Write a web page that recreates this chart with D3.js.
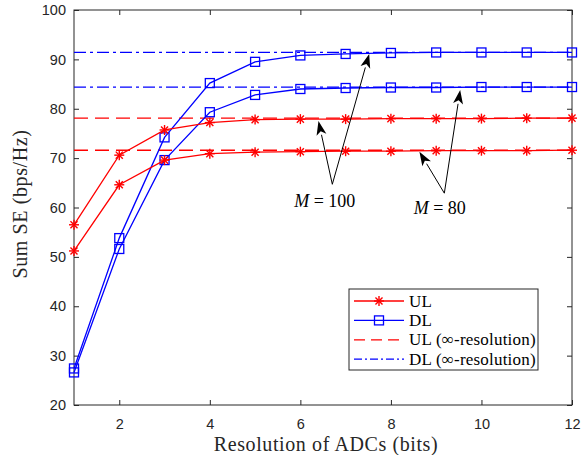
<!DOCTYPE html>
<html>
<head>
<meta charset="UTF-8">
<script src="https://d3js.org/d3.v7.min.js"></script>
<style>
body { margin: 0; background: #fff; }
</style>
</head>
<body>
<svg width="587" height="455"></svg>
<script>

// resolution (bits)
var bits = [1, 2, 3, 4, 5, 6, 7, 8, 9, 10, 11, 12];

// M = 100
var ul100 = [56.5, 70.6, 75.7, 77.2, 77.8, 77.9, 77.9, 78.0, 78.0, 78.0, 78.1, 78.1];
var dl100 = [27.4, 53.8, 74.2, 85.2, 89.5, 90.8, 91.1, 91.3, 91.4, 91.4, 91.4, 91.4];
// M = 80
var ul80 = [51.2, 64.6, 69.6, 70.9, 71.2, 71.3, 71.4, 71.4, 71.5, 71.5, 71.5, 71.6];
var dl80 = [26.6, 51.6, 69.6, 79.3, 82.8, 84.0, 84.2, 84.3, 84.3, 84.4, 84.4, 84.4];

// infinite-resolution limits
var ulInf = [78.1, 71.6];
var dlInf = [91.4, 84.4];

var xTicks = [2, 4, 6, 8, 10, 12];
var yTicks = [20, 30, 40, 50, 60, 70, 80, 90, 100];

var svg = d3.select("svg"),
    margin = {top: 10, right: 15, bottom: 50, left: 74},
    width = 587 - margin.left - margin.right,
    height = 455 - margin.top - margin.bottom,
    g = svg.append("g").attr("transform", "translate(" + margin.left + "," + margin.top + ")");

var x = d3.scaleLinear().domain([1, 12]).range([0, width]);
var y = d3.scaleLinear().domain([20, 100]).range([height, 0]);

var red = "#ff0000", blue = "#0000ff";
var serif = "Liberation Serif, serif";

// axes, ticks inside on all four sides
function tidy(sel) {
  sel.select(".domain").remove();
  sel.selectAll("line").attr("stroke", "#262626");
  sel.selectAll("text").attr("font-family", "Liberation Sans, Arial, sans-serif")
    .attr("font-size", 14.5).attr("fill", "#262626");
}
g.append("g").attr("transform", "translate(0," + height + ")")
  .call(d3.axisBottom(x).tickValues(xTicks).tickSizeInner(-5).tickSizeOuter(0).tickPadding(14))
  .call(tidy);
g.append("g")
  .call(d3.axisTop(x).tickValues(xTicks).tickSizeInner(-5).tickSizeOuter(0).tickFormat(""))
  .call(tidy);
g.append("g")
  .call(d3.axisLeft(y).tickValues(yTicks).tickSizeInner(-5).tickSizeOuter(0).tickPadding(8))
  .call(tidy);
g.append("g").attr("transform", "translate(" + width + ",0)")
  .call(d3.axisRight(y).tickValues(yTicks).tickSizeInner(-5).tickSizeOuter(0).tickFormat(""))
  .call(tidy);

g.append("rect").attr("width", width).attr("height", height)
  .attr("fill", "none").attr("stroke", "#262626").attr("stroke-width", 1);

// limit lines
ulInf.forEach(function(v) {
  g.append("line").attr("x1", 0).attr("x2", width).attr("y1", y(v)).attr("y2", y(v))
    .attr("stroke", red).attr("stroke-width", 1.3).attr("stroke-dasharray", "14,7");
});
dlInf.forEach(function(v) {
  g.append("line").attr("x1", 0).attr("x2", width).attr("y1", y(v)).attr("y2", y(v))
    .attr("stroke", blue).attr("stroke-width", 1.3).attr("stroke-dasharray", "12,4,3,4");
});

var line = d3.line().x(function(d, i) { return x(bits[i]); }).y(function(d) { return y(d); });

function star(sel, cx, cy) {
  var r = 5;
  var s = sel.append("g").attr("transform", "translate(" + cx + "," + cy + ")")
    .attr("stroke", red).attr("stroke-width", 1.4);
  [0, 45, 90, 135].forEach(function(a) {
    var t = a * Math.PI / 180;
    s.append("line").attr("x1", -r * Math.cos(t)).attr("y1", -r * Math.sin(t))
      .attr("x2", r * Math.cos(t)).attr("y2", r * Math.sin(t));
  });
}
function square(sel, cx, cy) {
  sel.append("rect").attr("x", cx - 4.5).attr("y", cy - 4.5).attr("width", 9).attr("height", 9)
    .attr("fill", "none").attr("stroke", blue).attr("stroke-width", 1.3);
}

[dl100, dl80].forEach(function(s) {
  g.append("path").datum(s).attr("d", line).attr("fill", "none").attr("stroke", blue).attr("stroke-width", 1.3);
  s.forEach(function(v, i) { square(g, x(bits[i]), y(v)); });
});
[ul100, ul80].forEach(function(s) {
  g.append("path").datum(s).attr("d", line).attr("fill", "none").attr("stroke", red).attr("stroke-width", 1.3);
  s.forEach(function(v, i) { star(g, x(bits[i]), y(v)); });
});

// annotations: [vertex, tip1, tip2] in data units
var annotations = [
  {label: "100", tx: 6.54, ty: 60.2, pts: [[6.706, 64.7], [6.40, 77.5], [7.52, 91.1]]},
  {label: "80", tx: 9.08, ty: 58.6, pts: [[9.18, 62.9], [8.63, 71.3], [9.53, 83.8]]}
];

function arrow(x1, y1, x2, y2) {
  var ang = Math.atan2(y2 - y1, x2 - x1), L = 14, W = 5;
  var bx = x2 - L * Math.cos(ang), by = y2 - L * Math.sin(ang);
  g.append("line").attr("x1", x1).attr("y1", y1).attr("x2", bx).attr("y2", by)
    .attr("stroke", "#000").attr("stroke-width", 1);
  var px = -Math.sin(ang) * W, py = Math.cos(ang) * W;
  var nx = x2 - L * 0.75 * Math.cos(ang), ny = y2 - L * 0.75 * Math.sin(ang);
  g.append("path")
    .attr("d", "M" + x2 + "," + y2 + "L" + (bx + px) + "," + (by + py) + "L" + nx + "," + ny +
      "L" + (bx - px) + "," + (by - py) + "Z")
    .attr("fill", "#000");
}

annotations.forEach(function(a) {
  var v = a.pts[0];
  arrow(x(v[0]), y(v[1]), x(a.pts[1][0]), y(a.pts[1][1]));
  arrow(x(v[0]), y(v[1]), x(a.pts[2][0]), y(a.pts[2][1]));
  var t = g.append("text").attr("x", x(a.tx)).attr("y", y(a.ty))
    .attr("text-anchor", "middle").attr("font-family", serif).attr("font-size", 18);
  t.append("tspan").attr("font-style", "italic").text("M");
  t.append("tspan").text(" = " + a.label);
});

// axis labels
svg.append("text").attr("x", 326).attr("y", 451)
  .attr("text-anchor", "middle").attr("font-family", serif).attr("font-size", 20)
  .attr("letter-spacing", 0.6).attr("fill", "#262626").text("Resolution of ADCs (bits)");
svg.append("text").attr("transform", "translate(27,204) rotate(-90)")
  .attr("text-anchor", "middle").attr("font-family", serif).attr("font-size", 20)
  .attr("letter-spacing", 0.6).attr("fill", "#262626").text("Sum SE (bps/Hz)");

// legend
var legendItems = ["UL", "DL", "UL (\u221E-resolution)", "DL (\u221E-resolution)"];
var lg = svg.append("g").attr("transform", "translate(349,289)");
lg.append("rect").attr("width", 189).attr("height", 81).attr("fill", "#fff")
  .attr("stroke", "#262626").attr("stroke-width", 1);
legendItems.forEach(function(d, i) {
  var yy = 12 + i * 19.4;
  var col = i % 2 === 0 ? red : blue;
  var ln = lg.append("line").attr("x1", 5).attr("x2", 55).attr("y1", yy).attr("y2", yy)
    .attr("stroke", col).attr("stroke-width", 1.3);
  if (i === 2) ln.attr("stroke-dasharray", "11,6");
  if (i === 3) ln.attr("stroke-dasharray", "8,3,2,3");
  if (i === 0) star(lg, 30, yy);
  if (i === 1) square(lg, 30, yy);
  lg.append("text").attr("x", 60).attr("y", yy + 5.5).attr("font-family", serif)
    .attr("font-size", 17).attr("letter-spacing", 0.2).text(d);
});

</script>
</body>
</html>
